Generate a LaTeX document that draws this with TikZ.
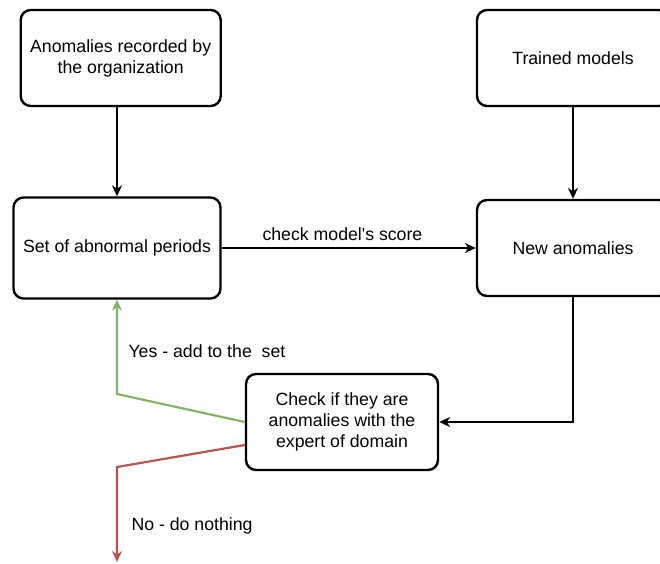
\documentclass[tikz,border=0pt]{standalone}
\usepackage{fontspec}
\setmainfont{Liberation Sans}[Ligatures=TeXOff]
\usetikzlibrary{arrows.meta}

\begin{document}
\begin{tikzpicture}[x=1pt,y=-1pt,
  box/.style={draw, rounded corners=10pt, line width=2.4pt, align=center,
    font=\fontsize{17.7}{21}\selectfont},
  flow/.style={draw, line width=2.2pt, -{Stealth[length=11pt,width=10pt]}},
  lbl/.style={font=\fontsize{17.7}{21}\selectfont, anchor=base west}]
\useasboundingbox (0,0) rectangle (660,563);

\node[box, minimum width=200pt, minimum height=96pt] (anom) at (120.7,58) {Anomalies recorded by\\the organization};
\node[box, minimum width=192pt, minimum height=96pt] (trained) at (573,58) {Trained models};
\node[box, minimum width=207pt, minimum height=101pt] (setab) at (117,248) {Set of abnormal periods};
\node[box, minimum width=192pt, minimum height=96pt] (newan) at (573,248) {New anomalies};
\node[box, minimum width=192pt, minimum height=96pt] (check) at (342,422) {Check if they are\\anomalies with the\\expert of domain};

\coordinate (yesbend) at (117,394);
\coordinate (nobend) at (117,467);
\coordinate (noend) at (117,562);

\path[flow] (setab.north |- anom.south) -- (setab.north);
\path[flow] (trained.south) -- (newan.north);
\path[flow] (setab.east) -- (newan.west);
\node[lbl] (score) at (259,240) {check model's score};
\path[flow] (newan.south) -- (newan.south |- check.east) -- (check.east);

\path[flow, color={rgb,255:red,130;green,179;blue,102}] (check.west) -- (yesbend) -- (setab.south);
\node[lbl] (yes) at (125,357) {Yes - add to the\ \ set};
\path[flow, color={rgb,255:red,184;green,84;blue,80}] ([yshift=-23pt]check.west) -- (nobend) -- (noend);
\node[lbl] (no) at (128,530) {No - do nothing};
\end{tikzpicture}
\end{document}
